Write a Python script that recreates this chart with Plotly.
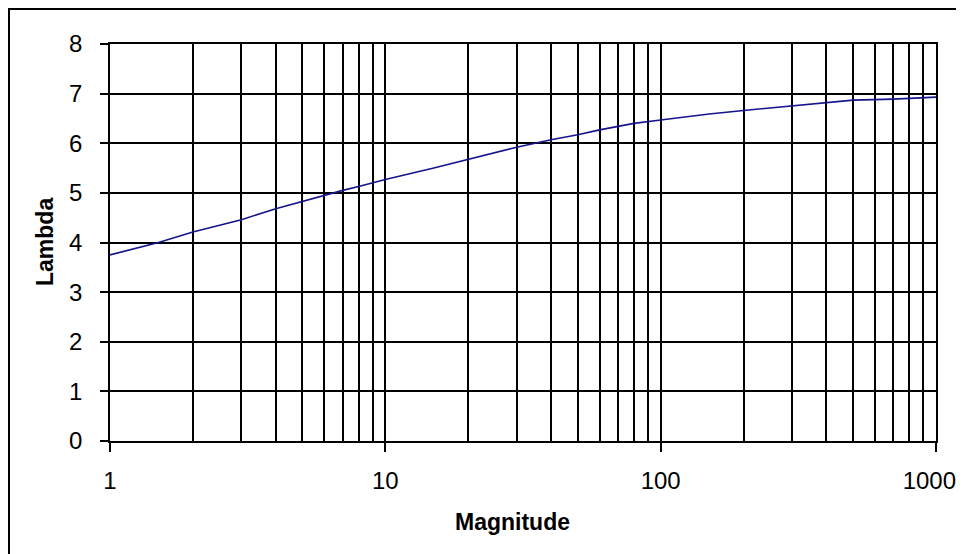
import plotly.graph_objects as go

magnitude = [1, 1.5, 2, 3, 4, 5, 6, 7, 8, 10, 15, 20, 30, 40, 50, 60, 80, 100,
             150, 200, 300, 400, 500, 700, 1000]
lam = [3.75, 4.0, 4.21, 4.46, 4.68, 4.83, 4.95, 5.05, 5.13, 5.27, 5.5, 5.67, 5.92,
       6.07, 6.17, 6.27, 6.40, 6.47, 6.59, 6.66, 6.75, 6.82, 6.87, 6.89, 6.93]

x_major = [1, 10, 100, 1000]
x_major_text = ["1", "10", "100", "1000\u00a0\u00a0"]
x_minor = [m * d for d in (1, 10, 100) for m in range(2, 10)]
y_ticks = list(range(0, 9))

# page body has an 8px margin; work in figure coordinates
OFF = 8
W, H = 964 - 2 * OFF, 554 - OFF
L, R, T, B = 110 - OFF, 936 - OFF, 44 - OFF, 441 - OFF

def px(x):
    return (x - OFF - L) / (R - L)

def py(y):
    return (B - (y - OFF)) / (B - T)

font_family = "Liberation Sans, Arial, sans-serif"

fig = go.Figure()
fig.add_trace(go.Scatter(x=magnitude, y=lam, mode="lines",
                         line=dict(color="#14148c", width=1.6),
                         showlegend=False, hoverinfo="skip"))

fig.update_layout(
    width=W, height=H,
    margin=dict(l=L, r=W - R, t=T, b=H - B, autoexpand=False),
    paper_bgcolor="white", plot_bgcolor="white",
    font=dict(family=font_family, size=24, color="black"),
    xaxis=dict(type="log", range=[0, 3], tickvals=x_major, ticktext=x_major_text,
               ticks="outside", ticklen=9, tickwidth=1.5, tickcolor="black",
               showgrid=True, gridcolor="black", gridwidth=1.5,
               showline=True, mirror=True, linecolor="black", linewidth=1.5,
               zeroline=False, ticklabelstandoff=8, ticklabeloverflow="allow",
               minor=dict(tickvals=x_minor, showgrid=True, gridcolor="black",
                          gridwidth=1.5, ticks=""),
               tickfont=dict(size=24)),
    yaxis=dict(range=[0, 8], tickvals=y_ticks, ticks="outside", ticklen=8,
               tickwidth=1.5, tickcolor="black", showgrid=True, gridcolor="black",
               gridwidth=1.5, showline=True, mirror=True, linecolor="black",
               linewidth=1.5, zeroline=False, ticklabelstandoff=13,
               tickfont=dict(size=24)),
    shapes=[dict(type="rect", xref="paper", yref="paper",
                 x0=px(9), x1=px(990), y0=py(580), y1=py(9),
                 line=dict(color="black", width=2), layer="below")],
    annotations=[
        dict(text="<b>Magnitude</b>", xref="paper", yref="paper",
             x=px(512), y=py(522), xanchor="center", yanchor="middle",
             showarrow=False, font=dict(size=23)),
        dict(text="<b>Lambda</b>", xref="paper", yref="paper",
             x=px(45), y=py(242), xanchor="center", yanchor="middle",
             textangle=-90, showarrow=False, font=dict(size=23)),
    ],
)

fig.write_html("out.html")
